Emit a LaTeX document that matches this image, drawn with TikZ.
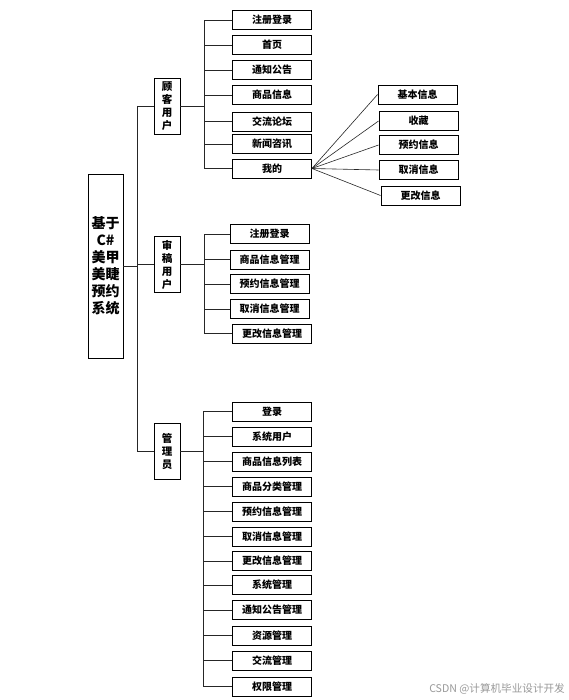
\documentclass[tikz,border=0pt]{standalone}
\usepackage{fontspec}
\setmainfont{Noto Sans CJK SC}
\tikzset{
  x=1pt, y=-1pt,
  box/.style={draw=black, line width=0.9pt, fill=white, inner sep=0pt, font=\bfseries\fontsize{10}{12}\selectfont},
  leaf/.style={box, minimum width=79pt, minimum height=19pt},
  grp/.style={box, minimum width=26pt, minimum height=56pt, align=center, font=\bfseries\fontsize{10.5}{13}\selectfont},
  root/.style={box, minimum width=35pt, minimum height=184pt, align=center, font=\bfseries\fontsize{14}{17}\selectfont},
  conn/.style={draw=black!85, line width=0.7pt},
}
\begin{document}
\begin{tikzpicture}
\useasboundingbox (0,0) rectangle (569,700);
\fill[white] (0,0) rectangle (569,700);

% root
\node[root] (root) at (105.5,266) {基于\\C\#\\美甲\\美睫\\预约\\系统};

% groups
\node[grp] (cust) at (167,106) {顾\\客\\用\\户};
\node[grp] (rev) at (167,264.5) {审\\稿\\用\\户};
\node[grp] (adm) at (167,451.5) {管\\理\\员};

% trunk
\coordinate (t1) at (137,106);
\coordinate (t2) at (137,264.5);
\coordinate (t3) at (137,451.5);
\draw[conn] (root.east) -- (root.east -| t1);
\draw[conn] (t1) -- (t3);
\draw[conn] (t1) -- (cust.west);
\draw[conn] (t2) -- (rev.west);
\draw[conn] (t3) -- (adm.west);

% customer children
\node[leaf] (c1) at (272,20) {注册登录};
\node[leaf] (c2) at (272,45) {首页};
\node[leaf] (c3) at (272,70) {通知公告};
\node[leaf] (c4) at (272,95) {商品信息};
\node[leaf] (c5) at (272,121.5) {交流论坛};
\node[leaf] (c6) at (272,144) {新闻咨讯};
\node[leaf] (c7) at (272,168.5) {我的};
\coordinate (cb) at (204,106);
\draw[conn] (cust.east) -- (cb);
\foreach \n in {c1,c2,c3,c4,c5,c6,c7} \draw[conn] (cb) |- (\n.west);

% my sub items
\node[leaf] (m1) at (417.5,94.5) {基本信息};
\node[leaf] (m2) at (418.5,121) {收藏};
\node[leaf] (m3) at (418.5,145) {预约信息};
\node[leaf] (m4) at (418.5,170) {取消信息};
\node[leaf] (m5) at (420.5,195.5) {更改信息};
\foreach \n in {m1,m2,m3,m4,m5} \draw[conn, line width=0.6pt] (c7.east) -- (\n.west);

% review children
\node[leaf] (r1) at (269.5,234) {注册登录};
\node[leaf] (r2) at (269.5,259.5) {商品信息管理};
\node[leaf] (r3) at (269.5,284) {预约信息管理};
\node[leaf] (r4) at (269.5,309) {取消信息管理};
\node[leaf] (r5) at (272,333.5) {更改信息管理};
\coordinate (rb) at (204,264.5);
\draw[conn] (rev.east) -- (rb);
\foreach \n in {r1,r2,r3,r4,r5} \draw[conn] (rb) |- (\n.west);

% admin children
\node[leaf] (a1) at (272,411.5) {登录};
\node[leaf] (a2) at (272,436.5) {系统用户};
\node[leaf] (a3) at (272,461.5) {商品信息列表};
\node[leaf] (a4) at (272,486.5) {商品分类管理};
\node[leaf] (a5) at (272,511.5) {预约信息管理};
\node[leaf] (a6) at (272,536.5) {取消信息管理};
\node[leaf] (a7) at (272,561) {更改信息管理};
\node[leaf] (a8) at (272,585) {系统管理};
\node[leaf] (a9) at (272,610) {通知公告管理};
\node[leaf] (a10) at (272,635.5) {资源管理};
\node[leaf] (a11) at (272,660.5) {交流管理};
\node[leaf] (a12) at (272,686.5) {权限管理};
\coordinate (ab) at (203,451.5);
\draw[conn] (adm.east) -- (ab);
\foreach \n in {a1,a2,a3,a4,a5,a6,a7,a8,a9,a10,a11,a12} \draw[conn] (ab) |- (\n.west);

% watermark
\node[text=black!40, font=\fontsize{10.6}{12}\selectfont, anchor=east, inner sep=0pt] (wm) at (565,689) {CSDN @计算机毕业设计开发};
\end{tikzpicture}
\end{document}
